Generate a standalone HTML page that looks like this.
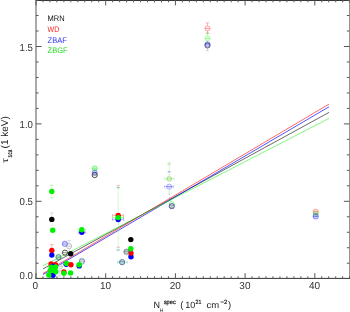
<!DOCTYPE html>
<html><head><meta charset="utf-8"><style>
html,body{margin:0;padding:0;background:#fff;font-family:"Liberation Sans",sans-serif;}
svg{display:block;will-change:transform;font-family:"Liberation Sans",sans-serif;text-rendering:geometricPrecision;font-kerning:none;}
</style></head><body>
<svg width="350" height="312" viewBox="0 0 350 312">
<line x1="36" y1="0.45" x2="349.5" y2="0.45" stroke="#111" stroke-width="0.9"/>
<line x1="349.5" y1="0" x2="349.5" y2="278.5" stroke="#888" stroke-width="0.9"/>
<line x1="36" y1="0" x2="36" y2="278.9" stroke="#555" stroke-width="1.0"/>
<line x1="35.5" y1="278.4" x2="350" y2="278.4" stroke="#333" stroke-width="1.0"/>
<path d="M36.00 278.4V273.20 M36.00 0V5.40 M42.97 278.4V276.30 M42.97 0V2.30 M49.94 278.4V276.30 M49.94 0V2.30 M56.91 278.4V276.30 M56.91 0V2.30 M63.88 278.4V276.30 M63.88 0V2.30 M70.85 278.4V276.30 M70.85 0V2.30 M77.82 278.4V276.30 M77.82 0V2.30 M84.79 278.4V276.30 M84.79 0V2.30 M91.76 278.4V276.30 M91.76 0V2.30 M98.73 278.4V276.30 M98.73 0V2.30 M105.70 278.4V273.20 M105.70 0V5.40 M112.67 278.4V276.30 M112.67 0V2.30 M119.64 278.4V276.30 M119.64 0V2.30 M126.61 278.4V276.30 M126.61 0V2.30 M133.58 278.4V276.30 M133.58 0V2.30 M140.55 278.4V276.30 M140.55 0V2.30 M147.52 278.4V276.30 M147.52 0V2.30 M154.49 278.4V276.30 M154.49 0V2.30 M161.46 278.4V276.30 M161.46 0V2.30 M168.43 278.4V276.30 M168.43 0V2.30 M175.40 278.4V273.20 M175.40 0V5.40 M182.37 278.4V276.30 M182.37 0V2.30 M189.34 278.4V276.30 M189.34 0V2.30 M196.31 278.4V276.30 M196.31 0V2.30 M203.28 278.4V276.30 M203.28 0V2.30 M210.25 278.4V276.30 M210.25 0V2.30 M217.22 278.4V276.30 M217.22 0V2.30 M224.19 278.4V276.30 M224.19 0V2.30 M231.16 278.4V276.30 M231.16 0V2.30 M238.13 278.4V276.30 M238.13 0V2.30 M245.10 278.4V273.20 M245.10 0V5.40 M252.07 278.4V276.30 M252.07 0V2.30 M259.04 278.4V276.30 M259.04 0V2.30 M266.01 278.4V276.30 M266.01 0V2.30 M272.98 278.4V276.30 M272.98 0V2.30 M279.95 278.4V276.30 M279.95 0V2.30 M286.92 278.4V276.30 M286.92 0V2.30 M293.89 278.4V276.30 M293.89 0V2.30 M300.86 278.4V276.30 M300.86 0V2.30 M307.83 278.4V276.30 M307.83 0V2.30 M314.80 278.4V273.20 M314.80 0V5.40 M321.77 278.4V276.30 M321.77 0V2.30 M328.74 278.4V276.30 M328.74 0V2.30 M335.71 278.4V276.30 M335.71 0V2.30 M342.68 278.4V276.30 M342.68 0V2.30 M349.65 278.4V276.30 M349.65 0V2.30 M36 263.22H38.6 M349.5 263.22H346.9 M36 247.74H38.6 M349.5 247.74H346.9 M36 232.26H38.6 M349.5 232.26H346.9 M36 216.78H38.6 M349.5 216.78H346.9 M36 201.30H41.6 M349.5 201.30H343.9 M36 185.82H38.6 M349.5 185.82H346.9 M36 170.34H38.6 M349.5 170.34H346.9 M36 154.86H38.6 M349.5 154.86H346.9 M36 139.38H38.6 M349.5 139.38H346.9 M36 123.90H41.6 M349.5 123.90H343.9 M36 108.42H38.6 M349.5 108.42H346.9 M36 92.94H38.6 M349.5 92.94H346.9 M36 77.46H38.6 M349.5 77.46H346.9 M36 61.98H38.6 M349.5 61.98H346.9 M36 46.50H41.6 M349.5 46.50H343.9 M36 31.02H38.6 M349.5 31.02H346.9 M36 15.54H38.6 M349.5 15.54H346.9 M36 0.06H38.6 M349.5 0.06H346.9" stroke="#555" stroke-width="1.0" fill="none"/>
<text transform="translate(32.900,278.700) scale(0.9500,1.0000)" font-size="10.15" fill="#333" text-anchor="end">0.0</text>
<text transform="translate(32.900,204.900) scale(0.9500,1.0000)" font-size="10.15" fill="#333" text-anchor="end">0.5</text>
<text transform="translate(32.900,127.900) scale(0.9500,1.0000)" font-size="10.15" fill="#333" text-anchor="end">1.0</text>
<text transform="translate(32.900,50.700) scale(0.9500,1.0000)" font-size="10.15" fill="#333" text-anchor="end">1.5</text>
<text transform="translate(35.200,288.800) scale(0.9900,1.0000)" font-size="10.15" fill="#333" text-anchor="middle">0</text>
<text transform="translate(105.500,288.800) scale(0.9900,1.0000)" font-size="10.15" fill="#333" text-anchor="middle">10</text>
<text transform="translate(175.200,288.800) scale(0.9900,1.0000)" font-size="10.15" fill="#333" text-anchor="middle">20</text>
<text transform="translate(244.900,288.800) scale(0.9900,1.0000)" font-size="10.15" fill="#333" text-anchor="middle">30</text>
<text transform="translate(314.600,288.800) scale(0.9900,1.0000)" font-size="10.15" fill="#333" text-anchor="middle">40</text>
<text transform="translate(153.500,307.800) scale(1.0000,1.0000)" font-size="9" fill="#222" text-anchor="start">N</text>
<text transform="translate(159.800,311.800) scale(1.0000,1.0000)" font-size="5" fill="#222" text-anchor="start">H</text>
<text transform="translate(163.700,303.600) scale(0.9550,1.0000)" font-size="6" fill="#222" text-anchor="start" stroke="#222" stroke-width="0.250" stroke-linejoin="round">spec</text>
<text transform="translate(180.200,307.800) scale(1.0000,1.0000)" font-size="9.5" fill="#222" text-anchor="start">(</text>
<text transform="translate(185.300,307.700) scale(1.0000,1.0000)" font-size="9" fill="#222" text-anchor="start">10</text>
<text transform="translate(195.500,303.500) scale(0.8696,1.0000)" font-size="6" fill="#222" text-anchor="start" stroke="#222" stroke-width="0.200" stroke-linejoin="round">21</text>
<text transform="translate(206.600,307.700) scale(1.0500,1.0000)" font-size="9" fill="#222" text-anchor="start">cm</text>
<text transform="translate(220.400,303.600) scale(0.9942,1.0000)" font-size="6" fill="#222" text-anchor="start" stroke="#222" stroke-width="0.200" stroke-linejoin="round">−2</text>
<text transform="translate(228.000,307.800) scale(1.0000,1.0000)" font-size="9.5" fill="#222" text-anchor="start">)</text>
<g transform="translate(7.6,163) rotate(-90)">
<text transform="translate(0.000,0.000) scale(1.2000,0.8500)" font-size="10" fill="#222" text-anchor="start">τ</text>
<text transform="translate(5.800,4.300) scale(0.6000,1.0000)" font-size="6.8" fill="#222" text-anchor="start" letter-spacing="0.917" stroke="#222" stroke-width="0.250" stroke-linejoin="round">sca</text>
<text transform="translate(14.600,0.000) scale(1.0000,1.0000)" font-size="10" fill="#222" text-anchor="start">(1 keV)</text>
</g>
<text transform="translate(47.600,21.100) scale(0.9400,1.0000)" font-size="8.0" fill="#111" text-anchor="start">MRN</text>
<text transform="translate(47.600,32.000) scale(0.8800,1.0000)" font-size="8.0" fill="#ff2020" text-anchor="start">WD</text>
<text transform="translate(47.600,42.500) scale(0.9400,1.0000)" font-size="8.0" fill="#3030ff" text-anchor="start">ZBAF</text>
<text transform="translate(47.600,52.800) scale(0.9400,1.0000)" font-size="8.0" fill="#20dd20" text-anchor="start">ZBGF</text>
<line x1="43" y1="268.9" x2="329" y2="112.4" stroke="#000000" stroke-width="0.85" stroke-opacity="0.7"/>
<line x1="43" y1="273.5" x2="329" y2="104.1" stroke="#ff0000" stroke-width="0.85" stroke-opacity="0.7"/>
<line x1="43" y1="274.5" x2="329" y2="106.8" stroke="#0000ff" stroke-width="0.85" stroke-opacity="0.8"/>
<line x1="43" y1="265.8" x2="329" y2="118.4" stroke="#00ee00" stroke-width="0.85" stroke-opacity="0.6"/>
<path d="M207.5 22.9V25.8" stroke="#ff0000" stroke-width="0.45" stroke-opacity="0.6"/>
<path d="M205.7 22.9h3.6" stroke="#ff0000" stroke-width="0.5" stroke-opacity="0.6"/>
<path d="M207.5 31.0V33.3" stroke="#ff0000" stroke-width="0.45" stroke-opacity="0.6"/>
<path d="M205.7 33.0h3.6" stroke="#ff0000" stroke-width="0.5" stroke-opacity="0.6"/>
<circle cx="207.5" cy="28.4" r="2.6" fill="#ff0000" fill-opacity="0.08" stroke="#ff0000" stroke-width="0.5" stroke-opacity="0.6"/>
<path d="M204.9 28.4H210.1" stroke="#ff0000" stroke-width="0.5" stroke-opacity="0.6"/>
<path d="M207.5 33.3V35.8" stroke="#00f000" stroke-width="0.45" stroke-opacity="0.6"/>
<path d="M205.7 33.6h3.6" stroke="#00f000" stroke-width="0.5" stroke-opacity="0.6"/>
<circle cx="207.5" cy="38.4" r="2.6" fill="#00f000" fill-opacity="0.15" stroke="#00f000" stroke-width="0.5" stroke-opacity="0.45"/>
<path d="M204.9 38.4H210.1" stroke="#00f000" stroke-width="0.5" stroke-opacity="0.45"/>
<path d="M207.5 41.0V42.0" stroke="#00f000" stroke-width="0.45" stroke-opacity="0.6"/>
<circle cx="207.5" cy="44.3" r="2.6" fill="#0000ff" fill-opacity="0.2" stroke="#0000ff" stroke-width="0.55" stroke-opacity="0.5"/>
<path d="M204.9 44.3H210.1" stroke="#0000ff" stroke-width="0.5" stroke-opacity="0.5"/>
<circle cx="207.5" cy="45.4" r="2.6" fill="#101030" fill-opacity="0" stroke="#101030" stroke-width="0.8" stroke-opacity="0.85"/>
<path d="M205.5 44.8H209.5" stroke="#60c0e0" stroke-width="0.5" stroke-opacity="0.5"/>
<path d="M207.5 48.0V50.7" stroke="#8070d0" stroke-width="0.45" stroke-opacity="0.6"/>
<path d="M205.7 50.7h3.6" stroke="#9090b0" stroke-width="0.5" stroke-opacity="0.6"/>
<circle cx="315.7" cy="211.7" r="2.7" fill="#ff0000" fill-opacity="0.15" stroke="#ff0000" stroke-width="0.45" stroke-opacity="0.6"/>
<path d="M313.0 211.7H318.4" stroke="#ff0000" stroke-width="0.5" stroke-opacity="0.6"/>
<circle cx="315.7" cy="213.9" r="2.7" fill="#00f000" fill-opacity="0.15" stroke="#00f000" stroke-width="0.45" stroke-opacity="0.6"/>
<path d="M313.0 213.9H318.4" stroke="#00f000" stroke-width="0.5" stroke-opacity="0.6"/>
<circle cx="315.7" cy="216.4" r="2.7" fill="#0000ff" fill-opacity="0.2" stroke="#0000ff" stroke-width="0.5" stroke-opacity="0.7"/>
<path d="M313.0 216.4H318.4" stroke="#0000ff" stroke-width="0.5" stroke-opacity="0.7"/>
<circle cx="315.7" cy="214.2" r="1.2" fill="#606060" fill-opacity="0.25"/>
<circle cx="94.7" cy="168.4" r="2.6" fill="#00f000" fill-opacity="0.25" stroke="#00f000" stroke-width="0.5" stroke-opacity="0.7"/>
<path d="M92.10000000000001 168.4H97.3" stroke="#00f000" stroke-width="0.5" stroke-opacity="0.7"/>
<circle cx="94.7" cy="172.6" r="2.6" fill="#0000ff" fill-opacity="0.2" stroke="#0000ff" stroke-width="0.5" stroke-opacity="0.6"/>
<path d="M92.10000000000001 172.6H97.3" stroke="#0000ff" stroke-width="0.5" stroke-opacity="0.6"/>
<circle cx="94.7" cy="175.1" r="2.6" fill="#222" fill-opacity="0.05" stroke="#222" stroke-width="0.9" stroke-opacity="0.85"/>
<path d="M92.10000000000001 175.1H97.3" stroke="#222" stroke-width="0.4" stroke-opacity="0.85"/>
<path d="M169.2 162.6V176.2" stroke="#00f000" stroke-width="0.45" stroke-opacity="0.45"/>
<path d="M167.39999999999998 162.6h3.6" stroke="#00f000" stroke-width="0.5" stroke-opacity="0.5"/>
<path d="M167.29999999999998 164.2h3.8" stroke="#ff0000" stroke-width="0.5" stroke-opacity="0.45"/>
<path d="M167.7 171.8h3.0" stroke="#0000ff" stroke-width="0.9" stroke-opacity="0.45"/>
<path d="M164.6 178.8H173.8" stroke="#00f000" stroke-width="0.45" stroke-opacity="0.45"/>
<path d="M164.6 177.3v3.0" stroke="#00f000" stroke-width="0.45" stroke-opacity="0.5"/>
<path d="M173.8 177.3v3.0" stroke="#00f000" stroke-width="0.45" stroke-opacity="0.5"/>
<circle cx="169.2" cy="178.8" r="2.6" fill="#00f000" fill-opacity="0.08" stroke="#00f000" stroke-width="0.45" stroke-opacity="0.55"/>
<path d="M166.6 178.8H171.79999999999998" stroke="#00f000" stroke-width="0.5" stroke-opacity="0.55"/>
<circle cx="169.2" cy="178.8" r="2.0" fill="#ff0000" fill-opacity="0" stroke="#ff0000" stroke-width="0.4" stroke-opacity="0.45"/>
<path d="M164.6 186.7H173.3" stroke="#0000ff" stroke-width="0.45" stroke-opacity="0.5"/>
<path d="M164.6 185.2v3.0" stroke="#0000ff" stroke-width="0.45" stroke-opacity="0.5"/>
<path d="M173.3 185.2v3.0" stroke="#0000ff" stroke-width="0.45" stroke-opacity="0.5"/>
<circle cx="169.2" cy="186.7" r="2.6" fill="#0000ff" fill-opacity="0.08" stroke="#0000ff" stroke-width="0.45" stroke-opacity="0.6"/>
<path d="M166.6 186.7H171.79999999999998" stroke="#0000ff" stroke-width="0.5" stroke-opacity="0.6"/>
<path d="M169.2 189.3V194.4" stroke="#00f000" stroke-width="0.45" stroke-opacity="0.6"/>
<path d="M167.7 194.4h3.0" stroke="#80a060" stroke-width="0.5" stroke-opacity="0.6"/>
<path d="M169.6 197.0V201.0" stroke="#0000ff" stroke-width="0.45" stroke-opacity="0.4"/>
<circle cx="171.8" cy="204.0" r="2.6" fill="#00f000" fill-opacity="0.1" stroke="#00f000" stroke-width="0.6" stroke-opacity="0.6"/>
<circle cx="171.8" cy="206.2" r="2.6" fill="#202090" fill-opacity="0.05" stroke="#202090" stroke-width="0.8" stroke-opacity="0.9"/>
<path d="M169.8 205.2H173.8" stroke="#202090" stroke-width="0.5" stroke-opacity="0.8"/>
<path d="M169.8 207.3H173.8" stroke="#202090" stroke-width="0.5" stroke-opacity="0.8"/>
<path d="M118.2 185.6V249.5" stroke="#60f060" stroke-width="0.45" stroke-opacity="0.6"/>
<path d="M116.5 185.4h3.4" stroke="#ff0000" stroke-width="0.5" stroke-opacity="0.6"/>
<path d="M116.7 187.8h3.0" stroke="#0000ff" stroke-width="0.5" stroke-opacity="0.6"/>
<path d="M116.5 187.2h3.4" stroke="#00f000" stroke-width="0.5" stroke-opacity="0.6"/>
<path d="M116.5 247.2h3.4" stroke="#ff0000" stroke-width="0.5" stroke-opacity="0.6"/>
<path d="M116.5 249.8h3.4" stroke="#00f000" stroke-width="0.5" stroke-opacity="0.6"/>
<path d="M116.7 250.2h3.0" stroke="#0000ff" stroke-width="0.5" stroke-opacity="0.6"/>
<path d="M112.4 215.4H123.6" stroke="#ff0000" stroke-width="0.45" stroke-opacity="0.6"/>
<path d="M112.4 213.9v3.0" stroke="#ff0000" stroke-width="0.45" stroke-opacity="0.6"/>
<path d="M123.6 213.9v3.0" stroke="#ff0000" stroke-width="0.45" stroke-opacity="0.6"/>
<path d="M112.4 219.4H123.6" stroke="#0000ff" stroke-width="0.45" stroke-opacity="0.6"/>
<path d="M112.4 217.9v3.0" stroke="#0000ff" stroke-width="0.45" stroke-opacity="0.6"/>
<path d="M123.6 217.9v3.0" stroke="#0000ff" stroke-width="0.45" stroke-opacity="0.6"/>
<path d="M112.4 217.5H123.6" stroke="#00f000" stroke-width="0.45" stroke-opacity="0.6"/>
<path d="M112.4 216.0v3.0" stroke="#00f000" stroke-width="0.45" stroke-opacity="0.6"/>
<path d="M123.6 216.0v3.0" stroke="#00f000" stroke-width="0.45" stroke-opacity="0.6"/>
<circle cx="118.2" cy="215.4" r="2.7" fill="#ff0000"/>
<circle cx="118.2" cy="219.5" r="2.7" fill="#0000ff"/>
<circle cx="118.2" cy="217.6" r="2.7" fill="#00f000"/>
<circle cx="130.8" cy="239.6" r="2.7" fill="#000000"/>
<circle cx="131.0" cy="256.8" r="2.7" fill="#0000ff"/>
<circle cx="131.0" cy="253.1" r="2.7" fill="#ff0000"/>
<circle cx="130.8" cy="248.8" r="2.7" fill="#00f000"/>
<circle cx="126.4" cy="251.6" r="2.6" fill="#5a7a5a" fill-opacity="0.35" stroke="#5a7a5a" stroke-width="0.7" stroke-opacity="0.85"/>
<path d="M123.80000000000001 251.6H129.0" stroke="#5a7a5a" stroke-width="0.5" stroke-opacity="0.85"/>
<circle cx="126.6" cy="252.4" r="2.6" fill="#0000ff" fill-opacity="0.0" stroke="#0000ff" stroke-width="0.4" stroke-opacity="0.45"/>
<path d="M117.5 262.2H127.3" stroke="#20a080" stroke-width="0.45" stroke-opacity="0.7"/>
<path d="M117.5 260.7v3.0" stroke="#30c080" stroke-width="0.45" stroke-opacity="0.7"/>
<path d="M127.3 260.7v3.0" stroke="#30c080" stroke-width="0.45" stroke-opacity="0.7"/>
<circle cx="122.1" cy="262.2" r="2.6" fill="#1a4a80" fill-opacity="0.1" stroke="#1a4a80" stroke-width="0.85" stroke-opacity="0.85"/>
<path d="M119.8 261.4H124.4" stroke="#1a4a80" stroke-width="0.5" stroke-opacity="0.8"/>
<path d="M119.8 263.0H124.4" stroke="#20a080" stroke-width="0.5" stroke-opacity="0.8"/>
<path d="M78.3 229.8H85.8" stroke="#00f000" stroke-width="0.35" stroke-opacity="0.6"/>
<path d="M78.3 228.3v3.0" stroke="#00f000" stroke-width="0.35" stroke-opacity="0.6"/>
<path d="M85.8 228.3v3.0" stroke="#00f000" stroke-width="0.35" stroke-opacity="0.6"/>
<path d="M78.3 232.6H85.8" stroke="#0000ff" stroke-width="0.35" stroke-opacity="0.6"/>
<path d="M78.3 231.1v3.0" stroke="#0000ff" stroke-width="0.35" stroke-opacity="0.6"/>
<path d="M85.8 231.1v3.0" stroke="#0000ff" stroke-width="0.35" stroke-opacity="0.6"/>
<circle cx="81.8" cy="232.2" r="2.7" fill="#0000ff"/>
<circle cx="81.8" cy="229.8" r="2.7" fill="#00f000"/>
<circle cx="81.8" cy="260.6" r="2.6" fill="#70b070" fill-opacity="0.15" stroke="#70b070" stroke-width="0.55" stroke-opacity="0.85"/>
<circle cx="82.0" cy="261.6" r="2.6" fill="#0000ff" fill-opacity="0.0" stroke="#0000ff" stroke-width="0.45" stroke-opacity="0.85"/>
<path d="M79.2 261.2H84.6" stroke="#507050" stroke-width="0.7" stroke-opacity="0.6"/>
<circle cx="79.2" cy="265.9" r="2.7" fill="#0000ff"/>
<circle cx="79.2" cy="264.7" r="2.7" fill="#00f000"/>
<path d="M51.8 185.3V197.7" stroke="#60f060" stroke-width="0.4" stroke-opacity="0.6"/>
<path d="M50.0 185.3h3.6" stroke="#00f000" stroke-width="0.5" stroke-opacity="0.6"/>
<path d="M50.0 197.7h3.6" stroke="#00f000" stroke-width="0.5" stroke-opacity="0.6"/>
<circle cx="51.8" cy="191.4" r="2.7" fill="#00f000"/>
<path d="M51.8 212.8V217" stroke="#888888" stroke-width="0.45" stroke-opacity="0.6"/>
<path d="M50.0 212.8h3.6" stroke="#888888" stroke-width="0.5" stroke-opacity="0.6"/>
<circle cx="51.8" cy="219.4" r="2.7" fill="#000000"/>
<path d="M51.0 225.2h2.6" stroke="#a0a0a0" stroke-width="0.5" stroke-opacity="0.6"/>
<circle cx="52.7" cy="230.3" r="2.7" fill="#00f000"/>
<path d="M51.8 244.6V248.5" stroke="#ff0000" stroke-width="0.45" stroke-opacity="0.6"/>
<path d="M50.0 244.6h3.6" stroke="#ff0000" stroke-width="0.5" stroke-opacity="0.6"/>
<circle cx="51.8" cy="250.5" r="2.7" fill="#ff0000"/>
<circle cx="51.8" cy="255.1" r="2.7" fill="#0000ff"/>
<circle cx="58.5" cy="257.2" r="2.6" fill="#3a6080" fill-opacity="0.2" stroke="#3a6080" stroke-width="0.8" stroke-opacity="0.85"/>
<path d="M55.9 257.2H61.1" stroke="#3a6080" stroke-width="0.5" stroke-opacity="0.85"/>
<circle cx="58.5" cy="256.9" r="2.6" fill="#00f000" fill-opacity="0.1" stroke="#00f000" stroke-width="0.45" stroke-opacity="0.4"/>
<circle cx="64.9" cy="243.8" r="2.6" fill="#6060ff" fill-opacity="0.25" stroke="#6060ff" stroke-width="0.9" stroke-opacity="0.85"/>
<path d="M62.300000000000004 243.8H67.5" stroke="#6060ff" stroke-width="0.5" stroke-opacity="0.85"/>
<path d="M69.1 240.6V243.6" stroke="#888888" stroke-width="0.45" stroke-opacity="0.6"/>
<path d="M67.39999999999999 240.6h3.4" stroke="#888888" stroke-width="0.5" stroke-opacity="0.6"/>
<path d="M69.1 248.8V251.5" stroke="#888888" stroke-width="0.45" stroke-opacity="0.6"/>
<circle cx="69.1" cy="246.2" r="2.6" fill="#909090" fill-opacity="0.05" stroke="#909090" stroke-width="0.6" stroke-opacity="0.85"/>
<path d="M66.5 246.2H71.69999999999999" stroke="#909090" stroke-width="0.5" stroke-opacity="0.85"/>
<circle cx="65.0" cy="252.7" r="2.6" fill="#000000" fill-opacity="0.0" stroke="#000000" stroke-width="0.8" stroke-opacity="0.85"/>
<path d="M62.4 252.7H67.6" stroke="#000000" stroke-width="0.5" stroke-opacity="0.85"/>
<circle cx="70.7" cy="253.7" r="2.7" fill="#000000"/>
<circle cx="66.2" cy="264.3" r="2.7" fill="#0000ff"/>
<circle cx="66.6" cy="263.4" r="2.7" fill="#00f000"/>
<circle cx="71.0" cy="264.8" r="2.7" fill="#ff0000"/>
<circle cx="59.8" cy="266.6" r="2.6" fill="#80b080" fill-opacity="0.1" stroke="#80b080" stroke-width="0.5" stroke-opacity="0.8"/>
<path d="M57.199999999999996 266.6H62.4" stroke="#80b080" stroke-width="0.5" stroke-opacity="0.8"/>
<path d="M59.8 269.2V276.0" stroke="#a090d0" stroke-width="0.5" stroke-opacity="0.7"/>
<path d="M58.3 271.0h3.0" stroke="#a090d0" stroke-width="0.5" stroke-opacity="0.7"/>
<path d="M58.3 276.0h3.0" stroke="#a090d0" stroke-width="0.5" stroke-opacity="0.7"/>
<circle cx="63.9" cy="271.9" r="2.7" fill="#ff0000"/>
<circle cx="63.9" cy="273.3" r="2.7" fill="#00f000"/>
<circle cx="70.6" cy="272.9" r="2.7" fill="#00f000"/>
<circle cx="51.1" cy="264.0" r="2.7" fill="#ff0000"/>
<circle cx="55.5" cy="264.6" r="2.7" fill="#ff0000"/>
<circle cx="53.0" cy="266.2" r="2.7" fill="#0000ff"/>
<circle cx="53.0" cy="275.2" r="2.7" fill="#0000ff"/>
<circle cx="51.3" cy="267.2" r="2.7" fill="#00f000"/>
<circle cx="55.5" cy="267.0" r="2.7" fill="#00f000"/>
<circle cx="50.3" cy="270.5" r="2.7" fill="#00f000"/>
<circle cx="53.3" cy="270.2" r="2.7" fill="#00f000"/>
<circle cx="55.9" cy="271.8" r="2.7" fill="#00f000"/>
<circle cx="48.8" cy="275.0" r="2.7" fill="#00f000"/>
</svg>
</body></html>
